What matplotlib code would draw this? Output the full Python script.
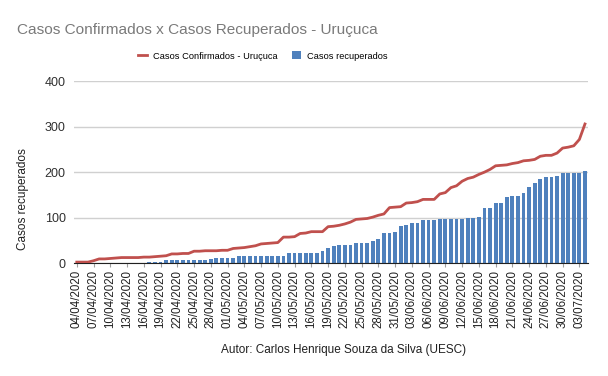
import datetime as dt
import numpy as np
import matplotlib.pyplot as plt

plt.rcParams['font.family'] = ['Liberation Sans', 'DejaVu Sans']

# dados diários de 04/04/2020 a 04/07/2020
inicio = dt.date(2020, 4, 4)

confirmados = [2, 2, 2, 5, 9, 9, 10, 11, 12, 12, 12, 12, 13, 13, 14, 15,
               16, 20, 20, 21, 21, 26, 26, 27, 27, 27, 28, 28, 32, 33, 34, 36,
               38, 42, 43, 44, 45, 57, 57, 58, 65, 66, 69, 69, 69, 80, 81, 83,
               86, 90, 96, 97, 98, 101, 105, 108, 122, 123, 124, 132, 133, 135, 140, 140,
               140, 152, 155, 166, 170, 180, 186, 189, 195, 200, 206, 214, 215, 216, 219, 221,
               225, 226, 228, 235, 237, 237, 242, 253, 255, 258, 272, 306]

recuperados = [0, 0, 0, 0, 0, 0, 0, 0, 0, 0, 0, 0, 1, 2, 2, 3,
               6, 6, 6, 6, 6, 6, 6, 6, 8, 10, 10, 10, 10, 16, 16, 16,
               16, 16, 16, 16, 16, 16, 21, 23, 23, 23, 23, 23, 27, 32, 38, 40,
               40, 40, 44, 44, 44, 49, 52, 65, 65, 69, 81, 83, 88, 88, 94, 94,
               94, 96, 96, 96, 96, 96, 98, 99, 102, 122, 122, 132, 132, 145, 147, 147,
               155, 168, 177, 184, 189, 189, 191, 199, 199, 199, 199, 203]

datas = [inicio + dt.timedelta(days=i) for i in range(len(confirmados))]
rotulos = [d.strftime('%d/%m/%Y') for d in datas]
x = np.arange(len(datas))

fig = plt.figure(figsize=(6.08, 3.76), dpi=100)
ax = fig.add_axes([0.1217, 0.3005, 0.845, 0.4833])

ax.bar(x, recuperados, width=0.68, color='#4F81BD', label='Casos recuperados', zorder=2)
ax.plot(x, confirmados, color='#C0504D', lw=2, label='Casos Confirmados - Uruçuca', zorder=3)

ax.set_xlim(-0.5, len(x) - 0.5)
ax.set_ylim(0, 400)
ax.set_yticks([0, 100, 200, 300, 400])
ax.grid(axis='y', color='#D0D0D0', lw=1, zorder=0)
ax.set_axisbelow(True)

ax.set_xticks(x[::3])
ax.set_xticklabels(rotulos[::3], rotation=90, fontsize=8.3, color='#202020')
ax.tick_params(axis='x', length=3, color='#A0A0A0', pad=2)
ax.tick_params(axis='y', length=0, labelsize=9, labelcolor='#303030', pad=6)

for lado in ['top', 'right', 'left']:
    ax.spines[lado].set_visible(False)
ax.spines['bottom'].set_color('#202020')

fig.text(0.038, 0.47, 'Casos recuperados', rotation=90, ha='center', va='center',
         fontsize=8.5, color='#202020')

fig.text(0.028, 0.92, 'Casos Confirmados x Casos Recuperados - Uruçuca', ha='left', va='center',
         fontsize=11.1, color='#7A7A7A')

leg = fig.legend(loc='center', bbox_to_anchor=(0.432, 0.851), ncol=2, frameon=False,
                 fontsize=6.7, handlelength=0.95, handleheight=0.9, columnspacing=1.6,
                 handletextpad=0.65)

fig.text(0.565, 0.068, 'Autor: Carlos Henrique Souza da Silva (UESC)', ha='center', va='center',
         fontsize=8.5, color='#202020')

fig.savefig('out.png', dpi=100)
